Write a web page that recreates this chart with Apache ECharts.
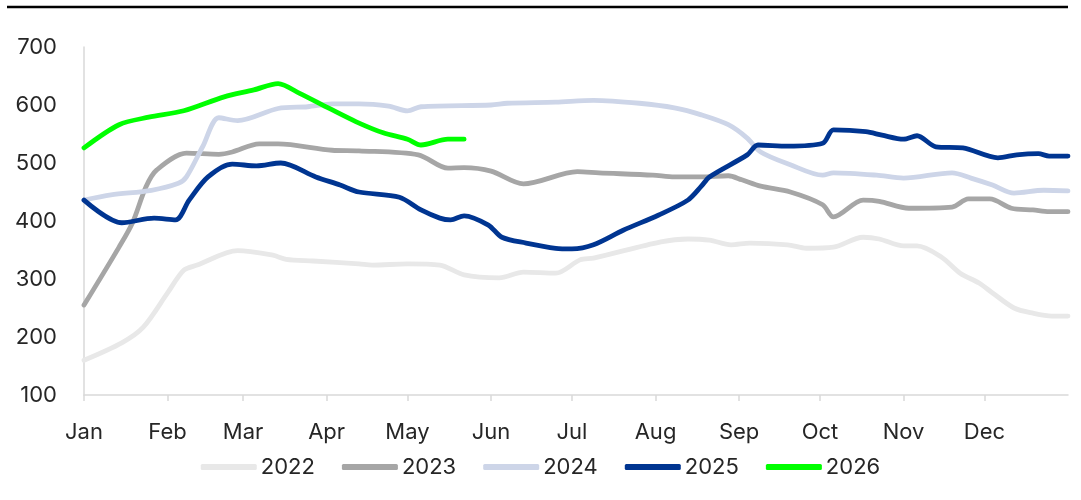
<!DOCTYPE html>
<html>
<head>
<meta charset="utf-8">
<script src="https://cdn.jsdelivr.net/npm/echarts@6/dist/echarts.min.js"></script>
<style>
html,body{margin:0;padding:0;background:#fff;}
#chart{width:1081px;height:500px;}
</style>
</head>
<body>
<div id="chart"></div>
<script>
// Month tick labels and their start day (day-of-year index)
const monthNames = ['Jan','Feb','Mar','Apr','May','Jun','Jul','Aug','Sep','Oct','Nov','Dec'];
const monthStartDays = [0,31,59,90,120,151,181,212,243,273,304,334];
const daysInYear = 365;

const seriesNames = ['2022','2023','2024','2025','2026'];
const seriesColors = ['#e8e8e8','#a6a6a6','#cdd5e8','#003591','#00ff00'];

// [day of year, value]
const data2022 = [[0,160],[14,190],[22,217],[31,276],[37,315],[42,324],[57,349],[70,341],[75,334],[85,331],[102,326],[107,324],[120,326],[132,324],[141,307],[154,302],[163,312],[175,310],[184,333],[189,336],[214,364],[224,369],[232,367],[240,359],[247,362],[261,359],[268,353],[278,355],[289,372],[295,369],[304,357],[309,357],[318,338],[325,310],[332,293],[337,276],[345,250],[352,241],[359,236],[365,236]];
const data2023 = [[0,255],[13,355],[18,397],[23,459],[27,488],[38,517],[50,515],[55,519],[65,533],[72,533],[92,522],[102,521],[124,514],[135,491],[141,492],[151,486],[163,464],[183,485],[191,483],[211,479],[219,476],[229,476],[239,478],[244,471],[251,460],[262,450],[274,428],[278,407],[289,436],[295,434],[306,422],[322,424],[328,438],[336,438],[344,422],[352,419],[358,416],[365,416]];
const data2024 = [[0,436],[10,445],[25,453],[35,465],[38,476],[44,528],[50,578],[57,573],[72,594],[83,597],[92,602],[102,602],[113,598],[120,590],[125,597],[151,600],[157,603],[175,605],[189,608],[206,603],[219,595],[229,583],[239,566],[246,543],[251,519],[262,497],[274,479],[278,483],[294,479],[304,474],[322,483],[329,474],[337,462],[345,448],[356,453],[365,452]];
const data2025 = [[0,436],[14,397],[26,405],[34,402],[39,436],[46,476],[55,498],[64,495],[73,500],[86,476],[95,462],[102,450],[117,441],[125,419],[132,405],[136,402],[141,409],[150,393],[155,372],[164,362],[175,353],[181,352],[189,359],[200,384],[213,410],[224,436],[229,460],[232,476],[246,514],[250,531],[261,529],[274,534],[278,557],[290,554],[296,548],[304,541],[309,547],[316,528],[326,526],[339,509],[346,514],[354,516],[358,512],[365,512]];
const data2026 = [[0,526],[13,566],[24,579],[37,590],[52,614],[63,626],[72,637],[80,620],[91,594],[101,571],[111,552],[120,541],[125,531],[135,541],[141,541]];

const yTicks = {min:100, max:700, interval:100};

// Build day categories: month name at month start, blank otherwise
const categories = [];
for (let d = 0; d <= daysInYear; d++) {
  const mi = monthStartDays.indexOf(d);
  categories.push(mi >= 0 ? monthNames[mi] : '');
}
const isMonthStart = (i, v) => v !== '';

const allData = [data2022, data2023, data2024, data2025, data2026];
const FONT = 'Inter, "Noto Sans", sans-serif';

const chart = echarts.init(document.getElementById('chart'), null, {renderer:'canvas'});
chart.setOption({
  animation: false,
  backgroundColor: '#ffffff',
  graphic: [{
    type: 'line',
    shape: {x1: 7, y1: 7, x2: 1068, y2: 7},
    style: {stroke: '#000000', lineWidth: 2.5}
  }],
  grid: {left: 84, right: 13, top: 47, bottom: 105, containLabel: false},
  legend: {
    data: seriesNames,
    bottom: 17,
    left: 'center',
    icon: 'roundRect',
    itemWidth: 56,
    itemHeight: 6,
    itemGap: 27,
    textStyle: {fontFamily: FONT, fontSize: 22, color: '#262626', padding: [0,0,0,-1]}
  },
  xAxis: {
    type: 'category',
    data: categories,
    boundaryGap: false,
    axisLine: {show: true, lineStyle: {color: '#d9d9d9', width: 1.5}},
    axisTick: {show: true, interval: isMonthStart, length: 6, lineStyle: {color: '#d9d9d9', width: 1.5}},
    axisLabel: {interval: isMonthStart, margin: 26, fontFamily: FONT, fontSize: 22, color: '#262626'},
    splitLine: {show: false}
  },
  yAxis: {
    type: 'value',
    min: yTicks.min, max: yTicks.max, interval: yTicks.interval,
    axisLine: {show: true, lineStyle: {color: '#d9d9d9', width: 1.5}},
    axisTick: {show: false},
    splitLine: {show: false},
    axisLabel: {margin: 27, fontFamily: FONT, fontSize: 22, color: '#262626'}
  },
  series: seriesNames.map((name, i) => ({
    name: name,
    type: 'line',
    data: allData[i],
    smooth: 0.3,
    showSymbol: false,
    symbol: 'none',
    lineStyle: {color: seriesColors[i], width: 4.8, cap: 'round', join: 'round'},
    itemStyle: {color: seriesColors[i]},
    z: 2 + i
  }))
});
</script>
</body>
</html>
